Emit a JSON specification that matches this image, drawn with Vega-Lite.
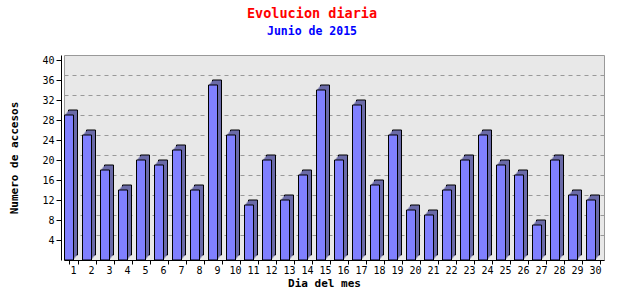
{
  "$schema": "https://vega.github.io/schema/vega-lite/v6.json",
  "width": 540,
  "height": 205,
  "autosize": {"type": "none"},
  "padding": {"left": 64, "top": 55, "right": 36, "bottom": 40},
  "background": "#ffffff",
  "title": {
    "text": "Evolucion diaria",
    "subtitle": "Junio de 2015",
    "color": "#ff0000",
    "subtitleColor": "#0000ff",
    "font": "DejaVu Sans Mono",
    "fontSize": 13.5,
    "fontWeight": "bold",
    "subtitleFont": "DejaVu Sans Mono",
    "subtitleFontSize": 11.5,
    "subtitleFontWeight": "bold",
    "subtitlePadding": 5.5,
    "anchor": "middle",
    "frame": "group",
    "dx": -22,
    "offset": 18
  },
  "config": {
    "view": {"fill": "#e8e8e8", "stroke": "#999999"},
    "font": "DejaVu Sans Mono",
    "axis": {
      "labelFont": "DejaVu Sans Mono",
      "labelFontSize": 10,
      "labelColor": "#000000",
      "titleFont": "DejaVu Sans Mono",
      "titleFontSize": 11,
      "titleFontWeight": "bold",
      "titleColor": "#000000",
      "domainColor": "#000000",
      "tickColor": "#000000"
    }
  },
  "data": {
    "values": [
      {"dia": 1, "accesos": 29}, {"dia": 2, "accesos": 25}, {"dia": 3, "accesos": 18},
      {"dia": 4, "accesos": 14}, {"dia": 5, "accesos": 20}, {"dia": 6, "accesos": 19},
      {"dia": 7, "accesos": 22}, {"dia": 8, "accesos": 14}, {"dia": 9, "accesos": 35},
      {"dia": 10, "accesos": 25}, {"dia": 11, "accesos": 11}, {"dia": 12, "accesos": 20},
      {"dia": 13, "accesos": 12}, {"dia": 14, "accesos": 17}, {"dia": 15, "accesos": 34},
      {"dia": 16, "accesos": 20}, {"dia": 17, "accesos": 31}, {"dia": 18, "accesos": 15},
      {"dia": 19, "accesos": 25}, {"dia": 20, "accesos": 10}, {"dia": 21, "accesos": 9},
      {"dia": 22, "accesos": 14}, {"dia": 23, "accesos": 20}, {"dia": 24, "accesos": 25},
      {"dia": 25, "accesos": 19}, {"dia": 26, "accesos": 17}, {"dia": 27, "accesos": 7},
      {"dia": 28, "accesos": 20}, {"dia": 29, "accesos": 13}, {"dia": 30, "accesos": 12}
    ]
  },
  "encoding": {
    "x": {
      "field": "dia",
      "type": "ordinal",
      "scale": {"paddingInner": 0.5, "paddingOuter": 0.25},
      "axis": {
        "labelAngle": 0,
        "tickBand": "extent",
        "tickOffset": -4,
        "tickSize": 4,
        "labelPadding": 1,
        "title": "Dia del mes",
        "titlePadding": 2,
        "titleX": 260
      }
    }
  },
  "resolve": {"axis": {"y": "independent"}},
  "layer": [
    {
      "mark": {"type": "bar", "color": "#6b6ba8", "stroke": "#000000", "strokeWidth": 1},
      "encoding": {
        "y": {
          "field": "accesos",
          "type": "quantitative",
          "scale": {"domain": [-1, 40], "nice": false, "zero": false},
          "axis": {
            "orient": "left",
            "offset": 3,
            "values": [4, 8, 12, 16, 20, 24, 28, 32, 36, 40],
            "tickOffset": 5,
            "grid": false,
            "tickSize": 5,
            "labelPadding": 2,
            "title": "Numero de accesos",
            "titlePadding": 22
          }
        },
        "y2": {"datum": 0}
      }
    },
    {
      "mark": {"type": "bar", "color": "#6b6ba8", "xOffset": -1, "yOffset": 1.25, "y2Offset": 1.25},
      "encoding": {
        "y": {"field": "accesos", "type": "quantitative",
          "axis": {
            "orient": "right",
            "values": [4, 8, 12, 16, 20, 24, 28, 32, 36],
            "grid": true,
            "gridColor": "#999999",
            "gridDash": [4, 4],
            "gridWidth": 1,
            "labels": false,
            "ticks": false,
            "domain": false,
            "title": null
          }
        },
        "y2": {"datum": 0}
      }
    },
    {
      "mark": {"type": "bar", "color": "#6b6ba8", "xOffset": -2, "yOffset": 2.5, "y2Offset": 2.5},
      "encoding": {
        "y": {"field": "accesos", "type": "quantitative", "axis": null},
        "y2": {"datum": 0}
      }
    },
    {
      "mark": {"type": "bar", "color": "#6b6ba8", "xOffset": -3, "yOffset": 3.75, "y2Offset": 3.75},
      "encoding": {
        "y": {"field": "accesos", "type": "quantitative", "axis": null},
        "y2": {"datum": 0}
      }
    },
    {
      "mark": {"type": "bar", "color": "#8080ff", "stroke": "#000000", "strokeWidth": 1, "xOffset": -4, "yOffset": 5, "y2Offset": 5},
      "encoding": {
        "y": {"field": "accesos", "type": "quantitative", "axis": null},
        "y2": {"datum": 0}
      }
    }
  ]
}
